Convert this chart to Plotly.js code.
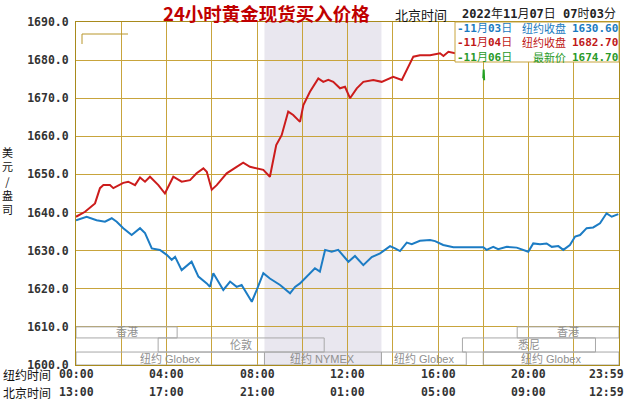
<!DOCTYPE html>
<html>
<head>
<meta charset="utf-8">
<script src="https://cdn.plot.ly/plotly-3.0.1.min.js"></script>
<style>html,body{margin:0;padding:0;background:#fff;}#chart{width:630px;height:400px;}</style>
</head>
<body>
<div id="chart"></div>
<script>
// ---- data (hours since New York 00:00) ----
const redHours = [0,0.40,0.84,1.06,1.21,1.50,1.65,2.09,2.31,2.61,2.83,3.05,3.27,3.64,3.93,4.30,4.67,5.04,5.33,5.63,5.78,6.00,6.22,6.66,7.10,7.39,7.69,8.28,8.57,8.70,8.85,9.09,9.38,9.60,9.83,9.90,10.05,10.34,10.71,10.93,11.15,11.37,11.67,11.89,12.11,12.41,12.70,13.14,13.51,14.02,14.40,14.62,14.91,15.20,15.65,16.09,16.24,16.46,16.75,16.97];
const redValues = [1638.9,1640.2,1642.4,1646.4,1647.2,1647.2,1646.4,1647.8,1648.1,1647.2,1649.2,1648.1,1649.4,1647.2,1645.0,1649.4,1648.1,1648.5,1650.3,1651.6,1650.7,1646.0,1647.2,1650.3,1652.0,1653.1,1652.0,1651.2,1649.4,1653.5,1657.7,1660.3,1666.5,1665.6,1664.3,1663.8,1668.2,1671.7,1675.2,1674.3,1674.8,1674.3,1672.6,1673.0,1670.0,1672.6,1674.3,1674.8,1674.3,1675.6,1674.8,1677.4,1680.9,1681.3,1681.3,1681.8,1681.1,1682.2,1681.8,1682.7];

const blueHours = [0,0.47,0.91,1.28,1.58,1.80,2.09,2.46,2.83,3.05,3.35,3.71,4.01,4.23,4.38,4.67,5.11,5.41,5.78,5.92,6.07,6.51,6.81,7.10,7.32,7.54,7.77,7.99,8.28,8.57,9.02,9.46,9.68,9.90,10.20,10.56,10.78,11.01,11.30,11.59,12.04,12.33,12.70,13.07,13.44,13.88,14.10,14.32,14.62,14.84,15.20,15.65,15.87,16.23,16.68,17.12,18.00,18.15,18.44,18.66,19.04,19.48,19.85,19.99,20.21,20.51,20.80,21.03,21.32,21.54,21.83,22.06,22.28,22.57,22.86,23.16,23.45,23.68,23.97];
const blueValues = [1638.0,1638.9,1638.0,1637.6,1638.5,1637.6,1635.9,1634.1,1635.9,1634.6,1630.6,1630.2,1628.9,1627.6,1628.4,1624.9,1627.1,1623.2,1621.4,1620.5,1624.1,1619.7,1621.9,1620.5,1621.0,1618.8,1616.6,1619.7,1624.1,1622.7,1621.0,1618.8,1620.5,1621.4,1623.2,1625.4,1624.5,1630.2,1629.7,1630.2,1627.1,1628.6,1626.2,1628.3,1629.3,1631.2,1630.6,1629.9,1632.1,1631.7,1632.6,1632.8,1632.5,1631.5,1630.9,1630.9,1630.9,1630.2,1631.0,1630.4,1631.0,1630.8,1630.0,1629.7,1631.9,1631.7,1631.9,1631.0,1631.2,1630.2,1631.5,1633.7,1634.1,1635.9,1636.1,1637.2,1639.8,1638.9,1639.6];

const greenHours = [18.00,18.02,18.04];
const greenValues = [1675.2,1677.5,1674.7];

const tickHours = [0,4,8,12,16,20,24];
const nyLabels = ['00:00','04:00','08:00','12:00','16:00','20:00','23:59'];
const bjLabels = ['13:00','17:00','21:00','01:00','05:00','09:00','12:59'];

const legendDates = ['-11月03日','-11月04日','-11月06日'];
const legendNames = ['纽约收盘','纽约收盘','最新价'];
const legendValues = ['1630.60','1682.70','1674.70'];

const marketNames = ['香港','伦敦','纽约 Globex','纽约 NYMEX','纽约 Globex','悉尼','香港','纽约 Globex'];
const marketStart = [0,3.63,0,8.33,13.5,17.08,19.5,18.0];
const marketEnd   = [4.47,10.97,8.33,13.5,17.25,22.96,24,24];
const marketRow   = [0,1,2,2,2,1,0,2];
const nymexSession = [8.33,13.5];

const titleText = '24小时黄金现货买入价格';
const yTitle = '美元/盎司';

// ---- styling ----
const BLUE='#1c7cc4', RED='#cc1c1c', GREEN='#22a022';
const GRID='#c8a43c', FRAME='#a88a1c';
const L=76, R=619, T=22, B=365;
const px = x => (x-L)/(R-L);
const py = y => (B-y)/(B-T);
const MONO='DejaVu Sans Mono, Noto Sans CJK SC';
const CJK='Noto Sans CJK SC';

const traces = [
  {x: blueHours, y: blueValues, mode:'lines', line:{color:BLUE, width:2}},
  {x: redHours, y: redValues, mode:'lines', line:{color:RED, width:2}},
  {x: greenHours, y: greenValues, mode:'lines', line:{color:GREEN, width:2}}
];

const shapes = [];
const annotations = [];

// NYMEX shading
shapes.push({type:'rect', xref:'x', yref:'paper', x0:nymexSession[0], x1:nymexSession[1], y0:0, y1:1,
  fillcolor:'#e9e7ef', line:{width:0}, layer:'below'});

// market boxes
const rowEdges = [1610, 1607.1, 1603.4, 1600];
marketNames.forEach((n,i)=>{
  const r = marketRow[i];
  shapes.push({type:'rect', xref:'x', yref:'y', x0:marketStart[i], x1:marketEnd[i],
    y0:rowEdges[r+1], y1:rowEdges[r], line:{color:'#a8a8a8', width:1}, fillcolor:'rgba(0,0,0,0)', layer:'above'});
  annotations.push({xref:'x', yref:'y', x:(marketStart[i]+marketEnd[i])/2, y:(rowEdges[r]+rowEdges[r+1])/2,
    text:n, showarrow:false, borderpad:0, font:{family:'Liberation Sans, Noto Sans CJK SC', size:11, color:'#909090'}});
});

// small bracket at top-left
shapes.push({type:'path', xref:'paper', yref:'paper',
  path:`M ${px(82)} ${py(44)} L ${px(82)} ${py(34)} L ${px(128)} ${py(34)}`, line:{color:'#b8962a', width:1}});

// legend box
shapes.push({type:'rect', xref:'paper', yref:'paper', x0:px(455), x1:1, y0:py(62), y1:1,
  fillcolor:'#ffffff', line:{color:GRID, width:1}, layer:'above'});
const legColors = ['#1a7ac0','#c01818','#2a9a2a'];
const boldDigits = s => s.replace(/([0-9\-\.]+)/g,'<b>$1</b>');
const colored = (arr, fmt) => arr.map((s,i)=>`<span style="color:${legColors[i]}">${fmt(s)}</span>`).join('<br>');
annotations.push({xref:'paper', yref:'paper', x:px(456), y:py(42.5), xanchor:'left', yanchor:'middle', align:'left',
  text:colored(legendDates, boldDigits), showarrow:false, borderpad:0, font:{family:MONO, size:11, color:'#333'}});
annotations.push({xref:'paper', yref:'paper', x:px(567), y:py(42.5), xanchor:'right', yanchor:'middle', align:'right',
  text:colored(legendNames, s=>s), showarrow:false, borderpad:0, font:{family:CJK, size:11, color:'#333'}});
annotations.push({xref:'paper', yref:'paper', x:px(619), y:py(42.5), xanchor:'right', yanchor:'middle', align:'right',
  text:colored(legendValues, s=>'<b>'+s+'</b>'), showarrow:false, borderpad:0, font:{family:MONO, size:11, color:'#333'}});

// x tick labels (two rows)
tickHours.forEach((h,i)=>{
  const last = i===tickHours.length-1;
  [[nyLabels,374],[bjLabels,392]].forEach(([arr,yy])=>{
    annotations.push({xref:'x', yref:'paper', x:h, y:py(yy), xanchor: last?'right':'center', xshift: last?6:0,
      yanchor:'middle', text:'<b>'+arr[i]+'</b>', showarrow:false, borderpad:0, font:{family:MONO, size:11.5, color:'#333'}});
  });
});
annotations.push({xref:'paper', yref:'paper', x:(2-L)/(R-L), y:py(374), xanchor:'left', yanchor:'middle',
  text:'纽约时间', showarrow:false, borderpad:0, font:{family:CJK, size:12, color:'#111'}});
annotations.push({xref:'paper', yref:'paper', x:(2-L)/(R-L), y:py(392), xanchor:'left', yanchor:'middle',
  text:'北京时间', showarrow:false, borderpad:0, font:{family:CJK, size:12, color:'#111'}});

// y title stacked
annotations.push({xref:'paper', yref:'paper', x:(8-L)/(R-L), y:py(180), xanchor:'center', yanchor:'middle',
  text:Array.from(yTitle).join('<br>'), showarrow:false, borderpad:0, font:{family:CJK, size:11, color:'#111'}});

// title
annotations.push({xref:'paper', yref:'paper', x:px(266), y:py(13), xanchor:'center', yanchor:'middle',
  text:'<b>'+titleText+'</b>', showarrow:false, borderpad:0, font:{family:CJK, size:18.5, color:'#c00000'}});

// top right header
annotations.push({xref:'paper', yref:'paper', x:px(421), y:py(14), xanchor:'center', yanchor:'middle',
  text:'北京时间', showarrow:false, borderpad:0, font:{family:CJK, size:13, color:'#111'}});
annotations.push({xref:'paper', yref:'paper', x:px(617), y:py(14), xanchor:'right', yanchor:'middle',
  text:boldDigits('2022年11月07日 07时03分'), showarrow:false, borderpad:0, font:{family:MONO, size:12, color:'#222'}});

const layout = {
  width:630, height:400,
  margin:{l:L, r:630-R, t:T, b:400-B, pad:0},
  paper_bgcolor:'#ffffff', plot_bgcolor:'#ffffff',
  showlegend:false, hovermode:false,
  xaxis:{range:[0,24], tick0:0, dtick:2, showticklabels:false, ticks:'',
    showgrid:true, gridcolor:GRID, gridwidth:1, zeroline:false,
    showline:true, linecolor:FRAME, linewidth:1, mirror:true, fixedrange:true},
  yaxis:{range:[1600,1690], tick0:1600, dtick:10, tickformat:'.1f', ticks:'', ticklabelstandoff:4,
    tickfont:{family:MONO, size:11.5, color:'#333', weight:'bold'},
    showgrid:true, gridcolor:GRID, gridwidth:1, zeroline:false,
    showline:true, linecolor:FRAME, linewidth:1, mirror:true, fixedrange:true},
  shapes, annotations
};

Plotly.newPlot('chart', traces, layout, {staticPlot:true, displayModeBar:false});
</script>
</body>
</html>
